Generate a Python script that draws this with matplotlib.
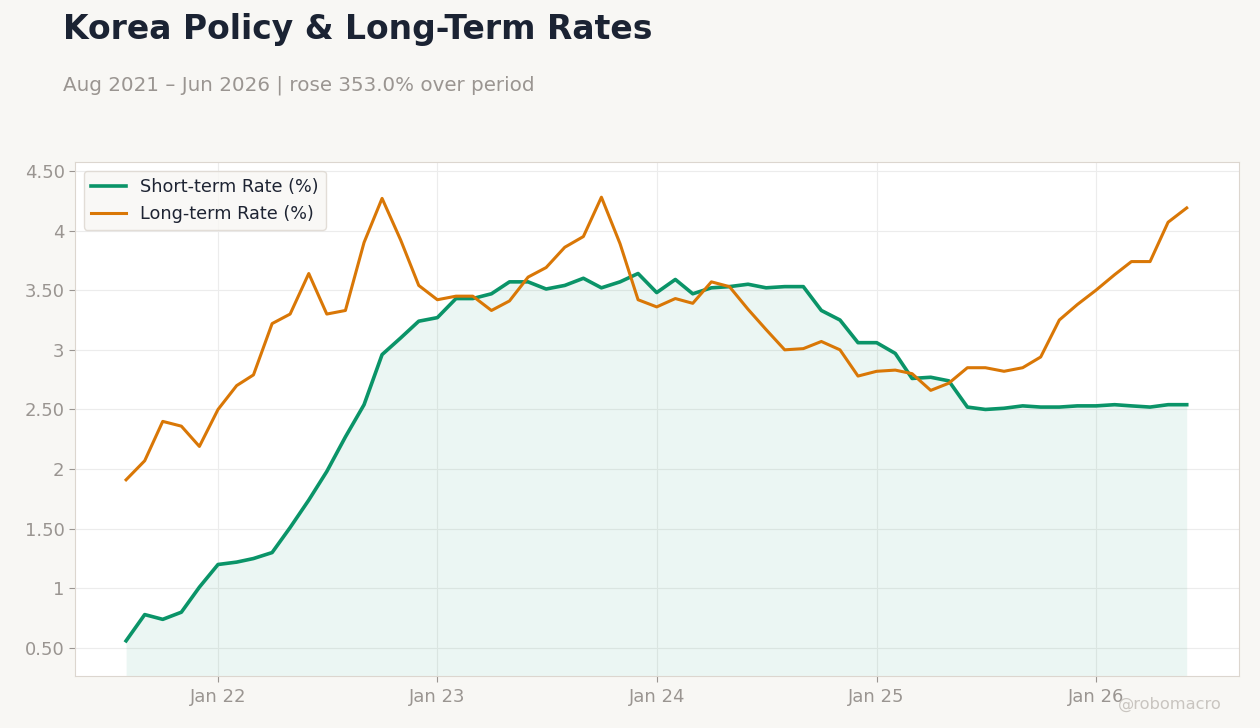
import matplotlib
matplotlib.use("Agg")
import matplotlib.pyplot as plt
import matplotlib.dates as mdates
from matplotlib.ticker import FuncFormatter
import pandas as pd

plt.rcParams["font.family"] = ["DejaVu Sans"]

dates = pd.date_range("2021-08-01", "2026-06-01", freq="MS")

short_rate = [0.56, 0.78, 0.74, 0.80, 1.01, 1.20, 1.22, 1.25, 1.30, 1.51,
              1.74, 1.98, 2.27, 2.54, 2.96, 3.10, 3.24, 3.27, 3.43, 3.43,
              3.47, 3.57, 3.57, 3.51, 3.54, 3.60, 3.52, 3.57, 3.64, 3.48,
              3.59, 3.47, 3.52, 3.53, 3.55, 3.52, 3.53, 3.53, 3.33, 3.25,
              3.06, 3.06, 2.97, 2.76, 2.77, 2.74, 2.52, 2.50, 2.51, 2.53,
              2.52, 2.52, 2.53, 2.53, 2.54, 2.53, 2.52, 2.54, 2.54]

long_rate = [1.91, 2.07, 2.40, 2.36, 2.19, 2.50, 2.70, 2.79, 3.22, 3.30,
             3.64, 3.30, 3.33, 3.90, 4.27, 3.92, 3.54, 3.42, 3.45, 3.45,
             3.33, 3.41, 3.61, 3.69, 3.86, 3.95, 4.28, 3.89, 3.42, 3.36,
             3.43, 3.39, 3.57, 3.53, 3.34, 3.17, 3.00, 3.01, 3.07, 3.00,
             2.78, 2.82, 2.83, 2.80, 2.66, 2.72, 2.85, 2.85, 2.82, 2.85,
             2.94, 3.25, 3.38, 3.50, 3.63, 3.74, 3.74, 4.07, 4.19]

green = "#0a9468"
orange = "#d97706"
bg = "#f8f7f4"

fig = plt.figure(figsize=(12.6, 7.28), dpi=100, facecolor=bg)
ax = fig.add_axes([75 / 1260, 1 - 676 / 728, (1239 - 75) / 1260, (676 - 162) / 728])
ax.set_facecolor("white")

ax.fill_between(dates, short_rate, 0, color=green, alpha=0.08, linewidth=0)
ax.plot(dates, short_rate, color=green, lw=2.6, label="Short-term Rate (%)")
ax.plot(dates, long_rate, color=orange, lw=2.2, label="Long-term Rate (%)")

ax.set_xlim(pd.Timestamp("2021-05-08"), pd.Timestamp("2026-08-27"))
ax.set_ylim(0.265, 4.575)
ax.set_yticks([0.5, 1, 1.5, 2, 2.5, 3, 3.5, 4, 4.5])
ax.yaxis.set_major_formatter(FuncFormatter(
    lambda v, p: f"{v:.0f}" if abs(v - round(v)) < 1e-9 else f"{v:.2f}"))
ax.xaxis.set_major_locator(mdates.YearLocator(month=1))
ax.xaxis.set_major_formatter(mdates.DateFormatter("Jan %y"))

ax.grid(True, color="#ececec", lw=0.8)
ax.set_axisbelow(True)
for s in ax.spines.values():
    s.set_color("#dcd6cf")
ax.tick_params(axis="both", colors="#9a9591", labelsize=13, length=4)
ax.tick_params(axis="x", pad=5)

leg = ax.legend(loc="upper left", fontsize=12.7, frameon=True, facecolor=bg,
                edgecolor="#dcd6cf", borderaxespad=0.5, handlelength=2)
for t in leg.get_texts():
    t.set_color("#1e2433")

fig.text(63 / 1260, 1 - 29 / 728, "Korea Policy & Long-Term Rates", fontsize=23.8,
         fontweight="bold", color="#1b2333", va="center", ha="left")
fig.text(63 / 1260, 1 - 85 / 728, "Aug 2021 \u2013 Jun 2026 | rose 353.0% over period",
         fontsize=14.3, color="#9a9591", va="center", ha="left")
fig.text(1222 / 1260, 1 - 704 / 728, "@robomacro", fontsize=11.7, color="#c9c5c0",
         va="center", ha="right")

fig.savefig("out.png", dpi=100, facecolor=bg)
